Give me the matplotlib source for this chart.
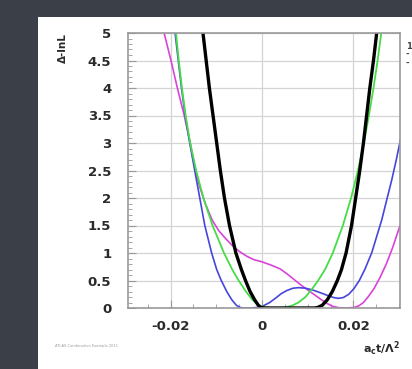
import matplotlib
matplotlib.use("Agg")
import matplotlib.pyplot as plt
from matplotlib.ticker import MultipleLocator, FuncFormatter

# curves: (x, delta -lnL)
black_x = [-0.0132, -0.0129, -0.0122, -0.0115, -0.0107, -0.0099, -0.0091, -0.0082, -0.0071, -0.0057,
           -0.0045, -0.0036, -0.0026, -0.0016, -0.0008, -0.0003, 0.0005, 0.006, 0.0115, 0.0122, 0.0132,
           0.0143, 0.0154, 0.0165, 0.0174, 0.0184, 0.0196, 0.0205, 0.0214, 0.0222, 0.0229, 0.0236,
           0.0244, 0.0251, 0.0254]
black_y = [5.2, 5.0, 4.5, 4.0, 3.5, 3.0, 2.5, 2.0, 1.5, 1.0,
           0.7, 0.5, 0.3, 0.15, 0.05, 0.01, 0.0, 0.0, 0.0, 0.01, 0.05,
           0.15, 0.3, 0.5, 0.7, 1.0, 1.5, 2.0, 2.5, 3.0, 3.5, 4.0,
           4.5, 5.0, 5.2]

green_x = [-0.0191, -0.0188, -0.0182, -0.0175, -0.0167, -0.0157, -0.0144, -0.0128, -0.0108, -0.0083,
           -0.0065, -0.0051, -0.0035, -0.0021, -0.0009, 0.0003, 0.0015, 0.003, 0.005, 0.0065, 0.008,
           0.0095, 0.011, 0.0123, 0.0138, 0.0155, 0.0177, 0.0195, 0.021, 0.0223, 0.0234, 0.0244,
           0.0253, 0.0261, 0.0264]
green_y = [5.2, 5.0, 4.5, 4.0, 3.5, 3.0, 2.5, 2.0, 1.5, 1.0,
           0.7, 0.5, 0.3, 0.15, 0.06, 0.02, 0.005, 0.0, 0.01, 0.04, 0.1,
           0.2, 0.35, 0.5, 0.7, 1.0, 1.5, 2.0, 2.5, 3.0, 3.5, 4.0,
           4.5, 5.0, 5.2]

blue_x = [-0.0193, -0.019, -0.0183, -0.0176, -0.0168, -0.0158, -0.0147, -0.0136, -0.0125, -0.011,
          -0.0099, -0.0089, -0.0077, -0.0066, -0.0056, -0.0048, -0.004, -0.0025, -0.001, 0.0003,
          0.0017, 0.003, 0.0042, 0.0055, 0.0068, 0.008, 0.0095, 0.011, 0.0127, 0.0143, 0.0157,
          0.0167, 0.0178, 0.019, 0.0201, 0.0213, 0.0225, 0.024, 0.0251, 0.0262, 0.0274, 0.0284,
          0.0294, 0.0304]
blue_y = [5.2, 5.0, 4.5, 4.0, 3.5, 3.0, 2.5, 2.0, 1.5, 1.0,
          0.7, 0.5, 0.3, 0.15, 0.05, 0.01, 0.0, 0.0, 0.01, 0.04,
          0.1, 0.18, 0.26, 0.32, 0.36, 0.37, 0.36, 0.33, 0.28, 0.23, 0.19,
          0.175, 0.19, 0.25, 0.35, 0.5, 0.7, 1.0, 1.3, 1.6, 2.0, 2.33,
          2.7, 3.1]

magenta_x = [-0.0219, -0.0214, -0.0199, -0.0185, -0.017, -0.0157, -0.0145, -0.0136, -0.0124, -0.0109,
             -0.0094, -0.0078, -0.0063, -0.0048, -0.0033, -0.0018, 0.0, 0.002, 0.004, 0.0055, 0.007,
             0.0085, 0.01, 0.0115, 0.013, 0.0143, 0.0155, 0.0168, 0.0185, 0.0202, 0.0212, 0.0222,
             0.0232, 0.0245, 0.0258, 0.0272, 0.0286, 0.0304]
magenta_y = [5.2, 5.0, 4.5, 4.0, 3.5, 3.0, 2.5, 2.2, 1.9, 1.6,
             1.4, 1.25, 1.12, 1.02, 0.94, 0.88, 0.84, 0.78, 0.71, 0.62, 0.52,
             0.42, 0.33, 0.24, 0.15, 0.08, 0.03, 0.005, 0.0, 0.01, 0.04, 0.1,
             0.2, 0.35, 0.55, 0.8, 1.1, 1.55]

y_ticks = [0, 0.5, 1, 1.5, 2, 2.5, 3, 3.5, 4, 4.5, 5]
x_ticks = [-0.02, 0.0, 0.02]
x_ticklabels = ["-0.02", "0", "0.02"]

fig = plt.figure(figsize=(4.12, 3.69), dpi=100)
fig.patch.set_facecolor("#3b3f47")

# white slide panel
panel = fig.add_axes([38 / 412, 0, 1 - 38 / 412, 1 - 17 / 369])
panel.set_facecolor("white")
panel.set_xticks([])
panel.set_yticks([])
for s in panel.spines.values():
    s.set_visible(False)

ax = fig.add_axes([128 / 412, 1 - 308 / 369, 272 / 412, 275 / 369])
ax.set_xlim(-0.0293, 0.0302)
ax.set_ylim(0, 5)

ax.plot(magenta_x, magenta_y, color="#d844d8", lw=1.2, solid_joinstyle="round")
ax.plot(blue_x, blue_y, color="#4646dc", lw=1.2, solid_joinstyle="round")
ax.plot(green_x, green_y, color="#46dc46", lw=1.3, solid_joinstyle="round")
ax.plot(black_x, black_y, color="black", lw=2.4, solid_joinstyle="round")

ax.set_yticks(y_ticks)
ax.yaxis.set_major_formatter(FuncFormatter(lambda v, p: "%g" % v))
ax.yaxis.set_minor_locator(MultipleLocator(0.1))
ax.set_xticks(x_ticks)
ax.set_xticklabels(x_ticklabels)
ax.xaxis.set_minor_locator(MultipleLocator(0.005))

ax.grid(True, which="major", color="#d4d4d4", lw=0.9)
ax.tick_params(which="both", direction="in", color="#999999", labelcolor="#2a2a2a")
ax.tick_params(which="major", length=6)
ax.tick_params(which="minor", length=3)
ax.tick_params(axis="y", pad=12, labelsize=9.5)
ax.tick_params(axis="x", pad=9, labelsize=9.5)
for lab in ax.get_xticklabels() + ax.get_yticklabels():
    lab.set_fontweight("bold")
for s in ax.spines.values():
    s.set_color("#999999")
    s.set_linewidth(1.2)

fig.text(63 / 412, 1 - 33 / 369, "Δ-lnL", rotation=90, ha="center", va="top",
         fontsize=7.5, fontweight="bold", color="#2a2a2a")
fig.text(400 / 412, 1 - 349 / 369, r"a$_\mathbf{c}$t/Λ$^\mathbf{2}$", ha="right", va="center",
         fontsize=8, fontweight="bold", color="#2a2a2a")
fig.text(55 / 412, 1 - 346 / 369, "ATLAS Combination Example 2011", ha="left", va="center",
         fontsize=2.6, color="#9a9a9a")
fig.text(406 / 412, 1 - 42 / 369, "1\n-\n-", ha="left", va="top", fontsize=6,
         fontweight="bold", color="#444444", linespacing=0.9)

fig.savefig("out.png", dpi=100, facecolor=fig.get_facecolor())
